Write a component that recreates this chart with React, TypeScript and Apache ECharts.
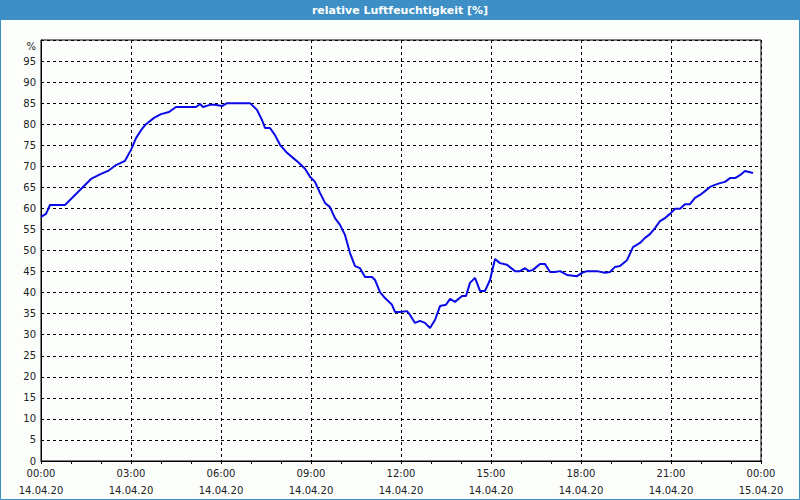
import React, { useEffect, useRef } from "react";
import * as echarts from "echarts";

// minutes since 14.04.20 00:00
const minutes = [
  0, 10, 18, 48, 84, 100, 120, 134, 150, 168, 180, 190, 202, 210, 226, 240, 256, 270, 310, 318,
  324, 338, 348, 362, 372, 418, 432, 442, 448, 458, 468, 478, 492, 504, 514, 528, 538, 548, 558, 568,
  578, 588, 598, 608, 618, 628, 638, 648, 662, 668, 678, 688, 702, 708, 718, 732, 738, 748, 758, 768,
  778, 788, 798, 810, 818, 828, 842, 850, 858, 868, 878, 888, 898, 908, 918, 932, 948, 958, 968, 976,
  984, 998, 1008, 1018, 1028, 1038, 1052, 1072, 1082, 1092, 1112, 1128, 1138, 1148, 1158, 1172, 1184, 1198, 1208, 1218,
  1228, 1238, 1248, 1258, 1268, 1278, 1288, 1298, 1308, 1318, 1328, 1338, 1348, 1358, 1368, 1378, 1388, 1398, 1408, 1418,
  1424,
];
const humidity = [
  58.0, 58.7, 60.8, 60.8, 65.1, 67.0, 68.2, 68.9, 70.3, 71.3, 73.9, 76.7, 78.9, 80.0, 81.5, 82.4, 82.9, 84.1, 84.1, 84.8,
  84.1, 84.6, 84.6, 84.3, 85.0, 85.0, 83.4, 81.0, 79.1, 79.1, 77.4, 75.1, 73.2, 72.0, 71.0, 69.4, 67.5, 66.3, 63.7, 61.3,
  60.3, 57.7, 56.1, 53.7, 49.4, 46.3, 45.8, 43.7, 43.7, 43.0, 40.1, 38.7, 37.1, 35.4, 35.4, 35.6, 34.7, 32.8, 33.3, 32.8,
  31.6, 33.5, 36.8, 37.1, 38.5, 37.8, 39.2, 39.2, 42.3, 43.5, 40.4, 40.4, 43.0, 48.0, 47.0, 46.6, 45.1, 45.1, 45.8, 45.1,
  45.4, 46.8, 46.8, 44.9, 44.9, 45.1, 44.2, 43.9, 44.7, 45.1, 45.1, 44.7, 44.9, 46.1, 46.3, 47.7, 50.8, 51.8, 53.0, 53.9,
  55.3, 57.0, 57.7, 58.7, 59.9, 59.9, 61.0, 61.0, 62.5, 63.2, 64.1, 65.1, 65.6, 66.0, 66.3, 67.2, 67.2, 67.9, 68.9, 68.6,
  68.4,
];
const xTickLabels = [
  "00:00\n14.04.20", "03:00\n14.04.20", "06:00\n14.04.20", "09:00\n14.04.20", "12:00\n14.04.20",
  "15:00\n14.04.20", "18:00\n14.04.20", "21:00\n14.04.20", "00:00\n15.04.20",
];
const title = "relative Luftfeuchtigkeit [%]";
const yUnit = "%";

export default function App() {
  const ref = useRef<HTMLDivElement>(null);
  useEffect(() => {
    document.body.style.margin = "0";
    const chart = echarts.init(ref.current!, null, { renderer: "svg" });
    const font = "DejaVu Sans";
    chart.setOption({
      animation: false,
      backgroundColor: "#fcfefc",
      graphic: [
        { type: "rect", shape: { x: 0, y: 0, width: 800, height: 20 }, style: { fill: "#3d8fc6" }, z: 0 },
        {
          type: "rect",
          shape: { x: 0.5, y: 0.5, width: 799, height: 499 },
          style: { fill: "none", stroke: "#3d8fc6", lineWidth: 1 },
          z: 0,
        },
        {
          type: "text",
          x: 400,
          y: 10,
          style: {
            text: title,
            fill: "#ffffff",
            font: `bold 11px "${font}"`,
            align: "center",
            verticalAlign: "middle",
          },
          z: 10,
        },
        {
          type: "text",
          x: 36,
          y: 46,
          style: {
            text: yUnit,
            fill: "#222",
            font: `10px "${font}"`,
            align: "right",
            verticalAlign: "middle",
          },
          z: 10,
        },
      ],
      grid: {
        left: 41,
        right: 39,
        top: 40,
        bottom: 39,
        show: true,
        borderColor: "#000",
        borderWidth: 1,
        backgroundColor: "transparent",
      },
      xAxis: {
        type: "value",
        min: 0,
        max: 24,
        interval: 3,
        axisLine: { show: true, lineStyle: { color: "#000", width: 1 } },
        axisTick: { show: true, length: 3, lineStyle: { color: "#000" } },
        minorTick: { show: true, splitNumber: 3, length: 3, lineStyle: { color: "#000" } },
        splitLine: { show: true, lineStyle: { color: "#000", type: [3, 3], width: 1 } },
        axisLabel: {
          color: "#222",
          fontFamily: font,
          fontSize: 10,
          lineHeight: 17,
          margin: 4,
          formatter: (v: number) => xTickLabels[Math.round(v / 3)] ?? "",
        },
      },
      yAxis: {
        type: "value",
        min: 0,
        max: 100,
        interval: 5,
        axisLine: { show: true, lineStyle: { color: "#000", width: 1 } },
        axisTick: { show: false },
        splitLine: { show: true, lineStyle: { color: "#000", type: [3, 3], width: 1 } },
        axisLabel: {
          color: "#222",
          fontFamily: font,
          fontSize: 10,
          margin: 5,
          formatter: (v: number) => (v === 100 ? "" : String(v)),
        },
      },
      series: [
        {
          type: "line",
          data: minutes.map((m, i) => [m / 60, humidity[i]]),
          showSymbol: false,
          symbol: "none",
          lineStyle: { color: "#0a0ae6", width: 2 },
          itemStyle: { color: "#0a0ae6" },
        },
      ],
    });
    return () => chart.dispose();
  }, []);
  return <div ref={ref} style={{ position: "fixed", left: 0, top: 0, width: 800, height: 500 }} />;
}
